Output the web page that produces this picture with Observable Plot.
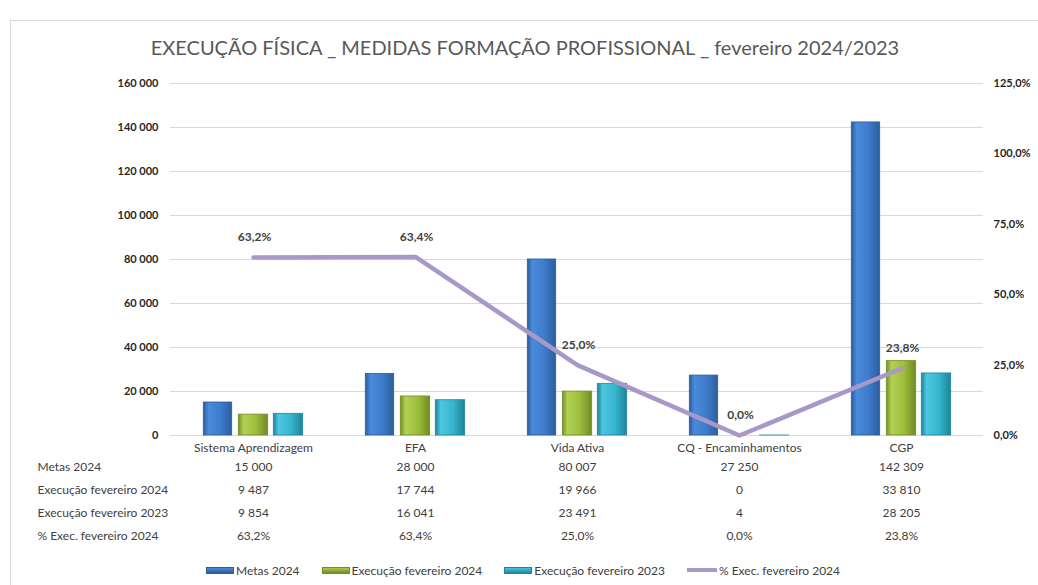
<!DOCTYPE html>
<html>
<head>
<meta charset="utf-8">
<script src="https://cdn.jsdelivr.net/npm/d3@7"></script>
<script src="https://cdn.jsdelivr.net/npm/@observablehq/plot@0.6"></script>
<style>
  html, body { margin: 0; padding: 0; background: #fff; }
  body { width: 1038px; height: 585px; overflow: hidden; position: relative; font-family: Lato, "Open Sans", sans-serif; }
  #frame { position: absolute; left: 10px; top: 20px; width: 1100px; height: 700px; border-left: 1px solid #d9d9d9; border-top: 1px solid #d9d9d9; pointer-events: none; }
  #title { position: relative; height: 70px; box-sizing: border-box; padding-top: 33px; padding-left: 12px; text-align: center; font-size: 20px; line-height: 28px; color: #595959; white-space: nowrap; }
  #chart { position: relative; height: 490px; }
  #legend { position: relative; height: 20px; display: flex; justify-content: center; align-items: center; padding-left: 8px; font-size: 12px; color: #404040; gap: 22px; }
  .item { display: flex; align-items: center; gap: 2px; }
  .sw { width: 26px; height: 5px; border: 1px solid; }
  .ln { width: 30px; height: 4px; background: #a898c8; }
</style>
</head>
<body>
<div id="frame"></div>
<div id="title">EXECUÇÃO FÍSICA _ MEDIDAS FORMAÇÃO PROFISSIONAL _ fevereiro 2024/2023</div>
<div id="chart"></div>
<div id="legend"></div>
<script>
const categories = ["Sistema Aprendizagem", "EFA", "Vida Ativa", "CQ - Encaminhamentos", "CGP"];
const metas2024 = [15000, 28000, 80007, 27250, 142309];
const exec2024 = [9487, 17744, 19966, 0, 33810];
const exec2023 = [9854, 16041, 23491, 4, 28205];
const pctExec2024 = [0.632, 0.634, 0.250, 0.000, 0.238];
const rowLabels = ["Metas 2024", "Execução fevereiro 2024", "Execução fevereiro 2023", "% Exec. fevereiro 2024"];
const leftTicks = [0, 20000, 40000, 60000, 80000, 100000, 120000, 140000, 160000];
const rightTicks = [0, 0.25, 0.5, 0.75, 1.0, 1.25];

const yMax = 160000, pMax = 1.25, k = yMax / pMax;
const fmtN = v => d3.format(",")(v).replace(/,/g, " ");
const fmtP = p => (p * 100).toFixed(1).replace(".", ",") + "%";

const series = [
  {name: "Metas 2024", values: metas2024, grad: "gBlue", stroke: "#2c5d9c", il: 31.3, ir: 102.3},
  {name: "Execução fevereiro 2024", values: exec2024, grad: "gGreen", stroke: "#728e25", il: 66.3, ir: 66.3},
  {name: "Execução fevereiro 2023", values: exec2023, grad: "gCyan", stroke: "#20859d", il: 101.3, ir: 31.3}
];
const grads = {
  gBlue: ["#2b5b9b", "#4a8bdb", "#3f7ccb", "#2d5e9e"],
  gGreen: ["#748f27", "#b2d154", "#9dbd3c", "#718b24"],
  gCyan: ["#1f8199", "#4cc8e0", "#36b5cf", "#1f8399"]
};

function defsMark() {
  const ns = "http://www.w3.org/2000/svg";
  const defs = document.createElementNS(ns, "defs");
  for (const [id, c] of Object.entries(grads)) {
    const g = document.createElementNS(ns, "linearGradient");
    g.setAttribute("id", id);
    g.setAttribute("x1", "0"); g.setAttribute("x2", "1"); g.setAttribute("y1", "0"); g.setAttribute("y2", "0");
    [[0, c[0]], [0.18, c[1]], [0.6, c[2]], [1, c[3]]].forEach(([o, col]) => {
      const s = document.createElementNS(ns, "stop");
      s.setAttribute("offset", o); s.setAttribute("stop-color", col);
      g.appendChild(s);
    });
    defs.appendChild(g);
  }
  return defs;
}

const barData = series.map(s => categories.map((c, i) => ({cat: c, v: s.values[i]})));
const lineData = categories.map((c, i) => ({cat: c, p: pctExec2024[i], v: pctExec2024[i] * k}));
const tableRows = [metas2024.map(fmtN), exec2024.map(fmtN), exec2023.map(fmtN), pctExec2024.map(fmtP)];
const rowDy = [32, 55, 78, 101];

const marks = [
  defsMark,
  Plot.gridY(leftTicks, {stroke: "#d9d9d9", strokeOpacity: 1}),
  ...series.map((s, j) => Plot.barY(barData[j], {
    x: "cat", y: "v", fill: `url(#${s.grad})`, stroke: s.stroke, strokeWidth: 0.8,
    insetLeft: s.il, insetRight: s.ir
  })),
  Plot.line(lineData, {x: "cat", y: "v", stroke: "#a898c8", strokeWidth: 4.5, strokeLinejoin: "round"}),
  Plot.text(lineData, {x: "cat", y: "v", text: d => fmtP(d.p), dy: -20, dx: 1, fill: "#404040", fontWeight: "bold", fontSize: 12}),
  Plot.axisY({anchor: "left", ticks: leftTicks, tickFormat: fmtN, tickSize: 0, tickPadding: 12, label: null, fontWeight: "bold", fill: "#262626", fontSize: 11}),
  Plot.axisY({anchor: "right", ticks: rightTicks.map(p => p * k), tickFormat: v => fmtP(v / k), tickSize: 0, tickPadding: 10, label: null, fontWeight: "bold", fill: "#262626", fontSize: 11}),
  Plot.axisX({tickSize: 0, tickPadding: 8, label: null, fill: "#404040", fontSize: 12}),
  ...tableRows.map((row, r) => Plot.text(categories.map((c, i) => ({cat: c, t: row[i]})), {
    x: "cat", y: 0, text: "t", dy: rowDy[r], fill: "#404040", fontSize: 12
  })),
  ...rowLabels.map((lab, r) => Plot.text([lab], {
    frameAnchor: "bottom-left", text: d => d, dx: -133, dy: rowDy[r], textAnchor: "start", lineAnchor: "middle", fill: "#404040", fontSize: 12
  }))
];

const chart = Plot.plot({
  width: 1038,
  height: 490,
  marginTop: 13,
  marginBottom: 125,
  marginLeft: 170,
  marginRight: 55,
  style: {fontFamily: "Lato, 'Open Sans', sans-serif", fontSize: "11px", background: "transparent", overflow: "visible"},
  x: {type: "band", domain: categories, padding: 0},
  y: {domain: [0, yMax]},
  marks
});
document.getElementById("chart").appendChild(chart);

const legend = document.getElementById("legend");
const swatchStyles = [
  ["#4a8bdb", "#2c5d9c"], ["#a8c94a", "#728e25"], ["#45c5de", "#20859d"]
];
series.forEach((s, j) => {
  const it = document.createElement("div"); it.className = "item";
  const sw = document.createElement("div"); sw.className = "sw";
  sw.style.background = `linear-gradient(to bottom, ${swatchStyles[j][0]}, ${swatchStyles[j][1]})`;
  sw.style.borderColor = swatchStyles[j][1];
  const t = document.createElement("span"); t.textContent = s.name;
  it.appendChild(sw); it.appendChild(t); legend.appendChild(it);
});
{
  const it = document.createElement("div"); it.className = "item";
  const sw = document.createElement("div"); sw.className = "ln";
  const t = document.createElement("span"); t.textContent = "% Exec. fevereiro 2024";
  it.appendChild(sw); it.appendChild(t); legend.appendChild(it);
}
</script>
</body>
</html>
